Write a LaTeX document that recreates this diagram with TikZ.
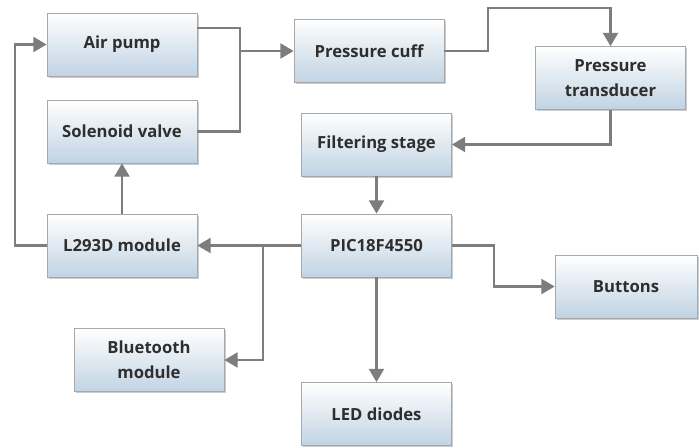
\documentclass[tikz,border=0pt]{standalone}
\usepackage{fontspec}
\setmainfont{Open Sans}
\usepackage{tikz}
\usetikzlibrary{arrows.meta,calc,positioning,shadows}
\definecolor{boxbot}{RGB}{192,211,227}
\definecolor{boxline}{RGB}{168,168,168}
\definecolor{wirecol}{RGB}{125,125,125}

\begin{document}
\begin{tikzpicture}[x=0.75pt,y=-0.75pt,
    every node/.style={font=\bfseries\fontsize{12.5}{18.5}\selectfont, text=black!82},
    block/.style={draw=boxline, top color=white, bottom color=boxbot,
        minimum width=112.5pt, minimum height=47.25pt, align=center, inner sep=2pt,
        drop shadow={shadow xshift=1.2pt, shadow yshift=-1.2pt, opacity=0.4}},
    wire/.style={draw=wirecol, line width=2.2pt, -{Triangle[length=10pt,width=11pt]}}]
    \useasboundingbox (0,0) rectangle (699,447);

    % blocks
    \node[block] (air) at (122,44.5) {Air pump};
    \node[block] (valve) at (122,131.5) {Solenoid valve};
    \node[block] (driver) at (122,245.5) {L293D module};
    \node[block] (cuff) at (369,51) {Pressure cuff};
    \node[block] (trans) at (610.5,78) {Pressure\\transducer};
    \node[block] (filter) at (376.5,144.5) {Filtering stage};
    \node[block] (pic) at (376.5,245.5) {PIC18F4550};
    \node[block, minimum width=106.5pt] (btn) at (626,286.5) {Buttons};
    \node[block] (bt) at (149,360) {Bluetooth\\module};
    \node[block] (led) at (376.5,414) {LED diodes};

    % bends
    \coordinate (join) at (240,51);
    \coordinate (cuffup) at (488,8);
    \coordinate (split) at (263,245.5);
    \coordinate (btnbend) at (494,245.5);
    \coordinate (loop) at (15,245.5);

    % connectors
    \draw[wire,-] ([yshift=12.4pt]air.east) -| (join) |- (valve.east);
    \draw[wire] (join) -- (cuff.west);
    \draw[wire] (cuff.east) -| (cuffup) -| (trans.north);
    \draw[wire] (trans.south) |- (filter.east);
    \draw[wire] (filter.south) -- (pic.north);
    \draw[wire] (pic.west) -- (driver.east);
    \draw[wire] (split) |- (bt.east);
    \draw[wire] (pic.east) -- (btnbend) |- (btn.west);
    \draw[wire] (pic.south) -- (led.north);
    \draw[wire] (driver.north) -- (valve.south);
    \draw[wire] (driver.west) -- (loop) |- (air.west);
\end{tikzpicture}
\end{document}
